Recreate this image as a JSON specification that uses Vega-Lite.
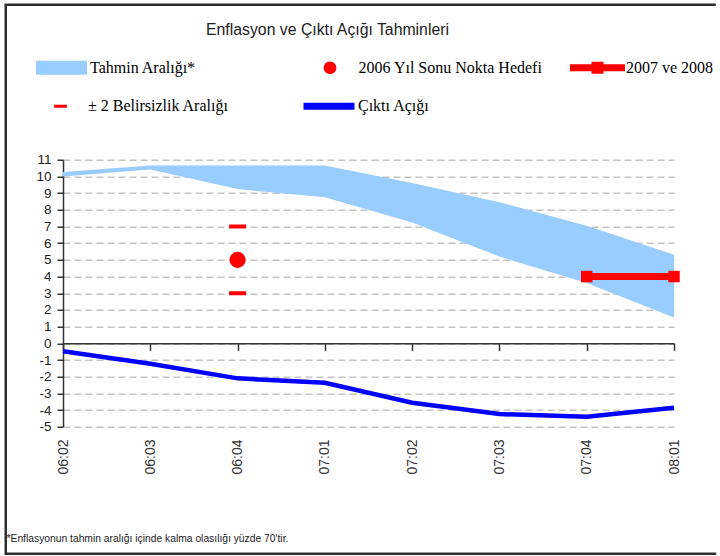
{
  "$schema": "https://vega.github.io/schema/vega-lite/v6.json",
  "padding": {"left": 3.75, "top": 2.75, "right": 0, "bottom": 0},
  "background": "white",
  "bounds": "flush",
  "align": "none",
  "spacing": -656.75,
  "datasets": {
    "aralik": [
      {"donem": "06:02", "deger": 10.0, "ust": 10.27, "seri": "Tahmin Aralığı*"},
      {"donem": "06:03", "deger": 10.42, "ust": 10.66, "seri": "Tahmin Aralığı*"},
      {"donem": "06:04", "deger": 9.24, "ust": 10.66, "seri": "Tahmin Aralığı*"},
      {"donem": "07:01", "deger": 8.75, "ust": 10.66, "seri": "Tahmin Aralığı*"},
      {"donem": "07:02", "deger": 7.24, "ust": 9.6, "seri": "Tahmin Aralığı*"},
      {"donem": "07:03", "deger": 5.2, "ust": 8.46, "seri": "Tahmin Aralığı*"},
      {"donem": "07:04", "deger": 3.62, "ust": 7.04, "seri": "Tahmin Aralığı*"},
      {"donem": "08:01", "deger": 1.54, "ust": 5.3, "seri": "Tahmin Aralığı*"}
    ],
    "belirsizlik": [
      {"donem": "06:04", "deger": 7, "seri": "± 2 Belirsizlik Aralığı"},
      {"donem": "06:04", "deger": 3, "seri": "± 2 Belirsizlik Aralığı"}
    ],
    "hedef2006": [
      {"donem": "06:04", "deger": 5, "seri": "2006 Yıl Sonu Nokta Hedefi"}
    ],
    "acik": [
      {"donem": "06:02", "deger": -0.47, "seri": "Çıktı Açığı"},
      {"donem": "06:03", "deger": -1.23, "seri": "Çıktı Açığı"},
      {"donem": "06:04", "deger": -2.1, "seri": "Çıktı Açığı"},
      {"donem": "07:01", "deger": -2.36, "seri": "Çıktı Açığı"},
      {"donem": "07:02", "deger": -3.56, "seri": "Çıktı Açığı"},
      {"donem": "07:03", "deger": -4.24, "seri": "Çıktı Açığı"},
      {"donem": "07:04", "deger": -4.4, "seri": "Çıktı Açığı"},
      {"donem": "08:01", "deger": -3.86, "seri": "Çıktı Açığı"}
    ],
    "hedef0708": [
      {"donem": "07:04", "deger": 4, "seri": "2007 ve 2008"},
      {"donem": "08:01", "deger": 4, "seri": "2007 ve 2008"}
    ],
    "bos": []
  },
  "hconcat": [
    {
      "width": 713.75,
      "height": 549,
      "view": {"stroke": "#2e2e2e", "strokeWidth": 2.5, "strokeDash": [710, 556, 5000], "fill": null},
      "data": {"name": "bos"},
      "mark": {"type": "point"},
      "encoding": {}
    },
    {
      "bounds": "flush",
      "align": "none",
      "spacing": 154,
      "vconcat": [
        {
          "width": 1,
          "height": 1,
          "view": {"stroke": null, "fill": null},
          "data": {"name": "bos"},
          "mark": {"type": "point"},
          "encoding": {}
        },
        {
          "width": 611,
          "height": 267,
          "view": {"stroke": null},
          "encoding": {
            "x": {
              "field": "donem",
              "type": "ordinal",
              "scale": {"type": "point", "padding": 0, "domain": ["06:02", "06:03", "06:04", "07:01", "07:02", "07:03", "07:04", "08:01"]},
              "axis": {
                "orient": "bottom",
                "offset": -83.44,
                "grid": false,
                "domainColor": "#333333",
                "domainWidth": 1.5,
                "tickColor": "#333333",
                "tickWidth": 1.5,
                "tickSize": 7,
                "labelAngle": 270,
                "labelPadding": 88.7,
                "labelFont": "Liberation Sans",
                "labelFontSize": 14,
                "labelColor": "#333333",
                "title": "*Enflasyonun tahmin aralığı içinde kalma olasılığı yüzde 70'tir.",
                "titleFont": "Liberation Sans",
                "titleFontSize": 10.3,
                "titleFontWeight": "normal",
                "titleColor": "#222222",
                "titleX": -57,
                "titleY": 198.6,
                "titleAlign": "left",
                "titleAnchor": "start",
                "titleBaseline": "alphabetic"
              }
            },
            "y": {
              "field": "deger",
              "type": "quantitative",
              "scale": {"domain": [-5, 11], "nice": false, "zero": false},
              "axis": {
                "values": [-5, -4, -3, -2, -1, 0, 1, 2, 3, 4, 5, 6, 7, 8, 9, 10, 11],
                "labelExpr": "'' + datum.value",
                "grid": true,
                "gridDash": [7, 4],
                "gridColor": "#c4c4c4",
                "gridWidth": 1.5,
                "domainColor": "#333333",
                "domainWidth": 1.5,
                "tickColor": "#333333",
                "tickWidth": 1.5,
                "tickSize": 6,
                "labelFont": "Liberation Sans",
                "labelFontSize": 13.5,
                "labelColor": "#222222",
                "labelPadding": 6,
                "title": "Enflasyon ve Çıktı Açığı Tahminleri",
                "titleAngle": 0,
                "titleX": 264,
                "titleY": -125,
                "titleAlign": "center",
                "titleBaseline": "alphabetic",
                "titleFont": "Liberation Sans",
                "titleFontSize": 15.8,
                "titleFontWeight": "normal",
                "titleColor": "#222222"
              }
            }
          },
          "layer": [
            {
              "data": {"name": "aralik"},
              "mark": {"type": "area", "opacity": 1},
              "encoding": {
                "y2": {"field": "ust"},
                "color": {
                  "field": "seri", "type": "nominal",
                  "scale": {"range": ["#99ccff"]},
                  "legend": {
                    "title": null, "orient": "none", "legendX": -28, "legendY": -118.5, "padding": 0,
                    "symbolType": "M-1,-0.27H1V0.27H-1Z", "symbolSize": 2601, "symbolOpacity": 1,
                    "labelFont": "Liberation Serif", "labelFontSize": 16, "labelColor": "#000000", "labelOffset": 2, "labelLimit": 0
                  }
                }
              }
            },
            {
              "data": {"name": "belirsizlik"},
              "mark": {"type": "tick", "size": 17, "thickness": 4, "opacity": 1},
              "encoding": {
                "color": {
                  "field": "seri", "type": "nominal",
                  "scale": {"range": ["#ff0000"]},
                  "legend": {
                    "title": null, "orient": "none", "legendX": -28, "legendY": -79, "padding": 0,
                    "symbolType": "M-0.25,-0.06H0.25V0.06H-0.25Z", "symbolSize": 2601, "symbolOpacity": 1,
                    "symbolFillColor": "#ff0000", "symbolStrokeWidth": 0,
                    "labelFont": "Liberation Serif", "labelFontSize": 16, "labelColor": "#000000", "labelOffset": 2, "labelLimit": 0
                  }
                }
              }
            },
            {
              "data": {"name": "hedef2006"},
              "mark": {"type": "circle", "size": 260, "opacity": 1},
              "encoding": {
                "color": {
                  "field": "seri", "type": "nominal",
                  "scale": {"range": ["#ff0000"]},
                  "legend": {
                    "title": null, "orient": "none", "legendX": 240.5, "legendY": -118.5, "padding": 0,
                    "symbolType": "M-0.25,0A0.25,0.25 0 1,1 0.25,0A0.25,0.25 0 1,1 -0.25,0Z", "symbolSize": 2601, "symbolOpacity": 1,
                    "labelFont": "Liberation Serif", "labelFontSize": 16, "labelColor": "#000000", "labelOffset": 2, "labelLimit": 0
                  }
                }
              }
            },
            {
              "data": {"name": "acik"},
              "mark": {"type": "line", "strokeWidth": 4.5},
              "encoding": {
                "color": {
                  "field": "seri", "type": "nominal",
                  "scale": {"range": ["#0000ff"]},
                  "legend": {
                    "title": null, "orient": "none", "legendX": 237, "legendY": -82.5, "padding": 0,
                    "symbolType": "M-1,0H1", "symbolSize": 2601, "symbolStrokeWidth": 7, "symbolOpacity": 1,
                    "labelFont": "Liberation Serif", "labelFontSize": 16, "labelColor": "#000000", "labelOffset": 0, "labelLimit": 0
                  }
                }
              }
            },
            {
              "data": {"name": "hedef0708"},
              "mark": {"type": "line", "strokeWidth": 7},
              "encoding": {
                "color": {
                  "field": "seri", "type": "nominal",
                  "scale": {"range": ["#ff0000"]},
                  "legend": null
                }
              }
            },
            {
              "data": {"name": "hedef0708"},
              "mark": {"type": "square", "size": 132, "opacity": 1},
              "encoding": {
                "color": {
                  "field": "seri", "type": "nominal",
                  "scale": {"range": ["#ff0000"]},
                  "legend": {
                    "title": null, "orient": "none", "legendX": 506, "legendY": -120.5, "padding": 0,
                    "symbolType": "M-1,-0.127H-0.218V-0.218H0.218V-0.127H1V0.127H0.218V0.218H-0.218V0.127H-1Z", "symbolSize": 3025, "symbolOpacity": 1,
                    "labelFont": "Liberation Serif", "labelFontSize": 16, "labelColor": "#000000", "labelOffset": 0, "labelLimit": 0
                  }
                }
              }
            }
          ],
          "resolve": {"scale": {"color": "independent"}, "legend": {"color": "independent"}}
        }
      ]
    }
  ]
}
